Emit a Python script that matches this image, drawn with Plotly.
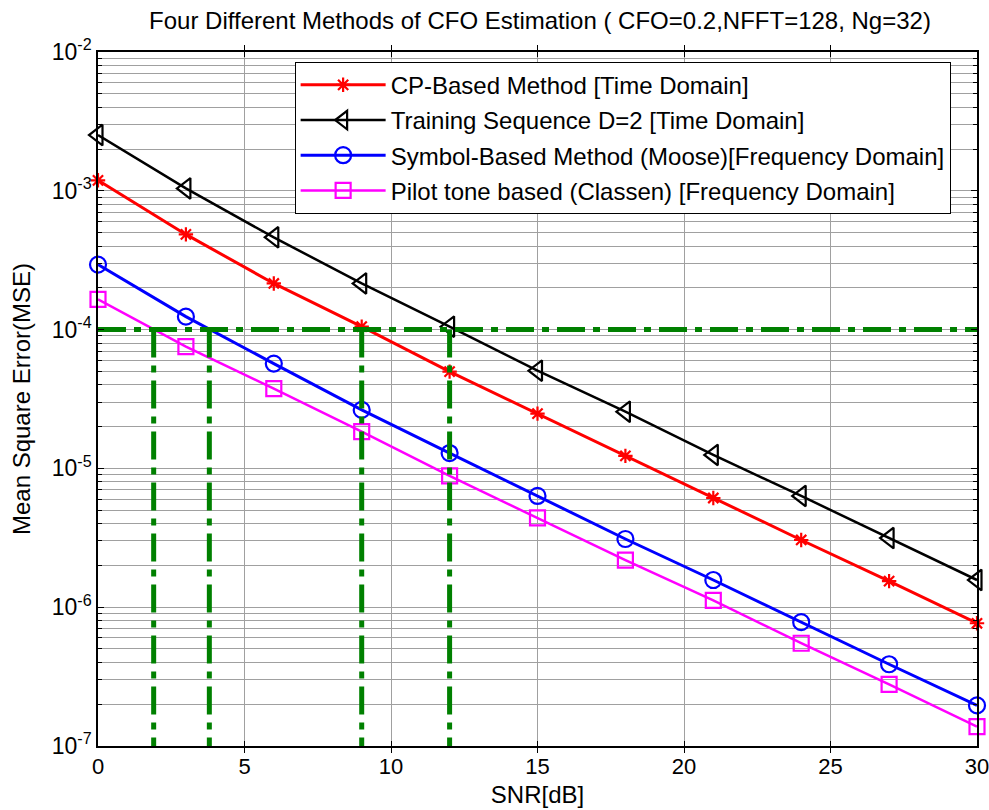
import plotly.graph_objects as go

# ---- data ----
snr = [0, 3, 6, 9, 12, 15, 18, 21, 24, 27, 30]
mse_cp = [1.19e-3, 4.85e-4, 2.15e-4, 1.05e-4, 4.98e-5, 2.48e-5, 1.23e-5, 6.12e-6, 3.05e-6, 1.54e-6, 7.66e-7]
mse_training = [2.52e-3, 1.04e-3, 4.62e-4, 2.15e-4, 1.05e-4, 5.06e-5, 2.56e-5, 1.25e-5, 6.33e-6, 3.15e-6, 1.57e-6]
mse_moose = [2.94e-4, 1.24e-4, 5.69e-5, 2.64e-5, 1.29e-5, 6.33e-6, 3.10e-6, 1.57e-6, 7.80e-7, 3.88e-7, 1.96e-7]
mse_classen = [1.65e-4, 7.54e-5, 3.75e-5, 1.84e-5, 8.83e-6, 4.40e-6, 2.18e-6, 1.12e-6, 5.50e-7, 2.78e-7, 1.38e-7]

series_names = [
    "CP-Based Method [Time Domain]",
    "Training Sequence D=2 [Time Domain]",
    "Symbol-Based Method (Moose)[Frequency Domain]",
    "Pilot tone based (Classen) [Frequency Domain]",
]

threshold_mse = 1e-4
threshold_snr = [1.9, 3.8, 9, 12]
x_range = [0, 30]
y_min, y_max = 1e-7, 1e-2
x_ticks = [0, 5, 10, 15, 20, 25, 30]
decades = [-7, -6, -5, -4, -3, -2]

FONT = "Liberation Sans, Arial, sans-serif"

fig = go.Figure()

styles = [
    dict(color="#ff0000", symbol="asterisk-open", size=12, lw=3),
    dict(color="#000000", symbol="triangle-left-open", size=18, lw=2.5),
    dict(color="#0000ff", symbol="circle-open", size=16, lw=3),
    dict(color="#ff00ff", symbol="square-open", size=15, lw=2.5),
]
for i, (name, ys, st) in enumerate(zip(series_names, [mse_cp, mse_training, mse_moose, mse_classen], styles)):
    fig.add_trace(go.Scatter(
        x=snr, y=ys, name=name, mode="lines+markers", legendgroup=f"g{i}",
        line=dict(color=st["color"], width=st["lw"]),
        marker=dict(symbol=st["symbol"], size=st["size"], color=st["color"],
                    line=dict(color=st["color"], width=2.2)),
        cliponaxis=False,
    ))

# threshold lines (drawn on an overlaid axis with identical range, which also carries the minor grid)
green = dict(color="#008000", width=5, dash="28px,8px,7px,8px")
fig.add_trace(go.Scatter(x=x_range, y=[threshold_mse, threshold_mse], mode="lines", yaxis="y2",
                         line=green, showlegend=False, hoverinfo="skip"))
for xs in threshold_snr:
    fig.add_trace(go.Scatter(x=[xs, xs], y=[threshold_mse, y_min], mode="lines", yaxis="y2",
                             line=green, showlegend=False, hoverinfo="skip"))

major_vals = [10.0 ** d for d in decades]
major_text = [f"10<sup>{d}</sup>" for d in decades]
minor_vals = [m * 10.0 ** d for d in decades[:-1] for m in range(2, 10)]

fig.update_layout(
    width=989, height=810,
    paper_bgcolor="white", plot_bgcolor="white",
    margin=dict(l=98, r=12, t=52, b=64, autoexpand=False),
    font=dict(family=FONT, size=21, color="black"),
    title=dict(text="Four Different Methods of CFO Estimation ( CFO=0.2,NFFT=128, Ng=32)",
               x=0.546, xanchor="center", y=0.975, yanchor="middle",
               font=dict(size=24, family=FONT)),
    legend=dict(x=0.970, xanchor="right", y=0.986, yanchor="top",
                bgcolor="white", bordercolor="black", borderwidth=1,
                font=dict(size=24, family=FONT), itemwidth=85,
                tracegroupgap=1),
    showlegend=True,
    yaxis2=dict(
        type="log", range=[-7, -2], overlaying="y", side="left",
        tickvals=minor_vals, showticklabels=False,
        ticks="inside", ticklen=4, tickcolor="black",
        showgrid=True, gridcolor="#a0a0a0", gridwidth=1, zeroline=False, automargin=False,
        showline=False, mirror="allticks",
    ),
)
fig.update_xaxes(
    range=x_range, tickvals=x_ticks, ticks="inside", ticklen=5, tickcolor="black",
    showline=True, linecolor="black", linewidth=1.5, mirror="allticks",
    showgrid=True, gridcolor="#a0a0a0", gridwidth=1, zeroline=False, automargin=False,
    ticklabeloverflow="allow",
    tickfont=dict(size=22), title=dict(text="SNR[dB]", font=dict(size=24), standoff=8),
)
fig.update_layout(yaxis=dict(
    type="log", range=[-7, -2], tickvals=major_vals, ticktext=major_text,
    ticks="inside", ticklen=6, tickcolor="black",
    showline=True, linecolor="black", linewidth=1.5, mirror="allticks",
    showgrid=True, gridcolor="#a0a0a0", gridwidth=1, zeroline=False, automargin=False,
    ticklabeloverflow="allow",
    tickfont=dict(size=23), title=dict(text="Mean Square Error(MSE)", font=dict(size=24), standoff=14),
))

fig.write_html("out.html", config={"displayModeBar": False},
               post_script="document.body.style.margin='0';document.body.style.padding='0';")
